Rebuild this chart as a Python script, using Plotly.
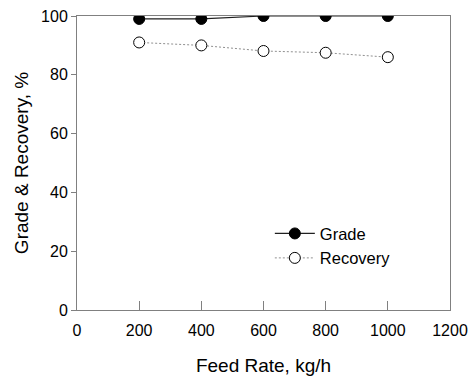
import plotly.graph_objects as go

# Feed rate (kg/h) and separation performance (%)
feed_rate = [200, 400, 600, 800, 1000]
grade = [99.0, 99.0, 100.0, 100.0, 100.0]
recovery = [91.0, 90.0, 88.1, 87.5, 86.0]

x_ticks = [0, 200, 400, 600, 800, 1000, 1200]
y_ticks = [0, 20, 40, 60, 80, 100]

font_family = "Liberation Sans, Arial, sans-serif"
frame_color = "#808080"

fig = go.Figure()

fig.add_trace(go.Scatter(
    x=feed_rate, y=grade, name="Grade", mode="lines+markers",
    line=dict(color="#202020", width=1.2),
    marker=dict(symbol="circle", size=11, color="black",
                line=dict(color="black", width=1)),
))

fig.add_trace(go.Scatter(
    x=feed_rate, y=recovery, name="Recovery", mode="lines+markers",
    line=dict(color="#909090", width=1, dash="2px,2px"),
    marker=dict(symbol="circle", size=11, color="white",
                line=dict(color="black", width=1)),
))

fig.update_layout(
    width=472, height=376,
    margin=dict(l=77, r=22, t=16, b=66),
    paper_bgcolor="white", plot_bgcolor="white",
    font=dict(family=font_family, size=16, color="black"),
    showlegend=True,
    legend=dict(x=0.517, y=0.319, xanchor="left", yanchor="top",
                bgcolor="rgba(0,0,0,0)", font=dict(size=16.5),
                itemwidth=40, tracegroupgap=0),
    xaxis=dict(
        range=[0, 1200], tickvals=x_ticks, ticks="inside", ticklen=9,
        tickcolor=frame_color, showline=True, linecolor=frame_color,
        linewidth=1, mirror=True, showgrid=False, zeroline=False,
        tickfont=dict(size=16), automargin=False, ticklabelstandoff=6,
        title=dict(text="Feed Rate, kg/h", font=dict(size=19), standoff=20),
    ),
    yaxis=dict(
        range=[0, 100], tickvals=y_ticks, ticks="outside", ticklen=5,
        tickcolor=frame_color, showline=True, linecolor=frame_color,
        linewidth=1, mirror=True, showgrid=False, zeroline=False,
        tickfont=dict(size=16), automargin=False,
        title=dict(text="Grade & Recovery, %", font=dict(size=19), standoff=7),
    ),
)

fig.write_html("out.html")
